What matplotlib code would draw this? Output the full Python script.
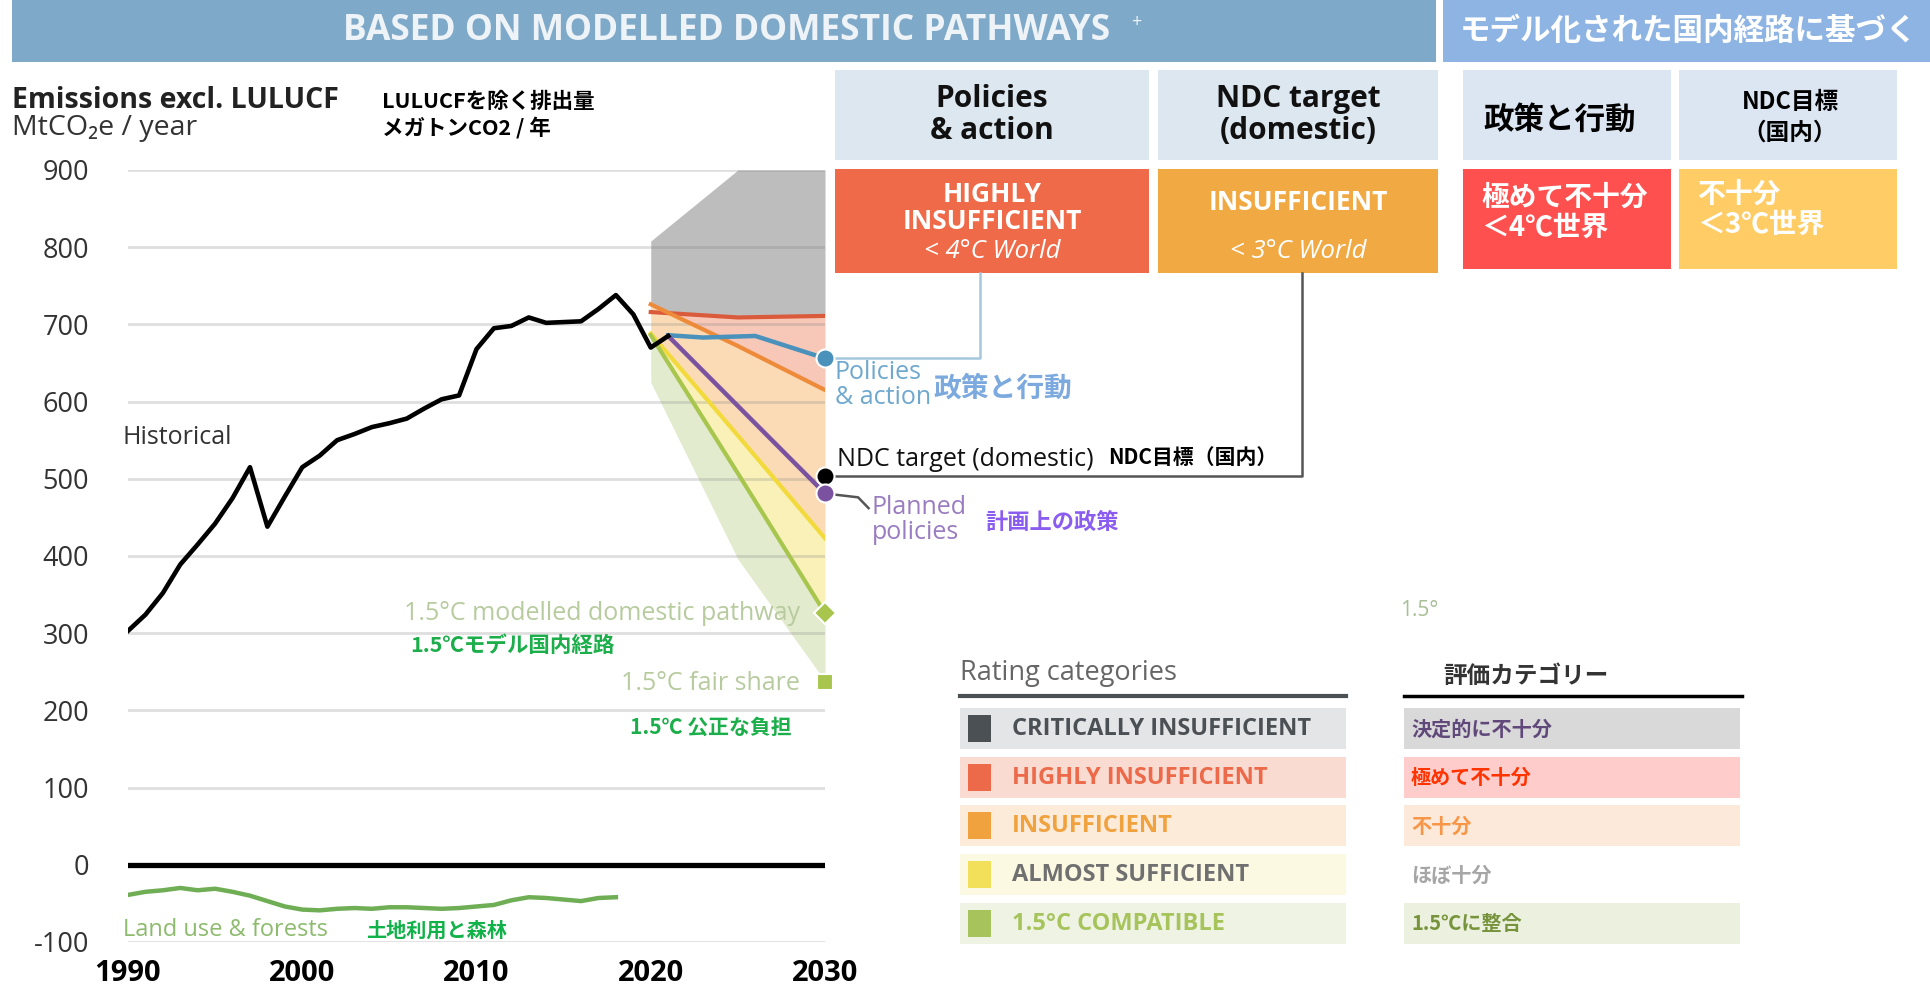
import matplotlib
matplotlib.use("Agg")
import matplotlib.pyplot as plt
from matplotlib.patches import Rectangle

plt.rcParams['font.family'] = ['Open Sans', 'Noto Sans CJK JP', 'DejaVu Sans']
JP = ['Noto Sans CJK JP', 'DejaVu Sans']

# ---- data ----
hist_years = list(range(1990, 2022))
hist_vals = [303, 324, 352, 389, 415, 442, 475, 515, 438, 477, 515, 530, 550, 558, 567, 572,
             578, 591, 603, 608, 668, 695, 698, 709, 702, 703, 704, 720, 738, 713, 670, 685]

lulucf_years = list(range(1990, 2019))
lulucf_vals = [-39, -35, -33, -30, -33, -31, -35, -40, -47, -54, -58, -59, -57, -56, -57, -55,
               -55, -56, -57, -56, -54, -52, -46, -42, -43, -45, -47, -43, -42]

band_years = [2020, 2025, 2030]
crit_top = [808, 900, 900]
highly_top = [716, 709, 711]
insuff_top = [726, 672, 615]
almost_top = [688, 556, 423]
compat_top = [686, 507, 326]
compat_bottom = [625, 396, 238]

policy_years = [2021, 2023, 2026, 2030]
policy_vals = [686, 683, 685, 656]
planned_years = [2021, 2030]
planned_vals = [685, 481]
ndc_2030 = 503
pathway_2030 = 326
fairshare_2030 = 237

yticks = [-100, 0, 100, 200, 300, 400, 500, 600, 700, 800, 900]
xticks = [1990, 2000, 2010, 2020, 2030]

rating_en = ['CRITICALLY INSUFFICIENT', 'HIGHLY INSUFFICIENT', 'INSUFFICIENT',
             'ALMOST SUFFICIENT', '1.5°C COMPATIBLE']
rating_ja = ['決定的に不十分', '極めて不十分', '不十分', 'ほぼ十分', '1.5℃に整合']
en_bg = ['#E4E5E7', '#FADBD2', '#FDEBDA', '#FCF9E3', '#EEF3E3']
en_sq = ['#4B5055', '#EC6A49', '#F0A23F', '#F2E05A', '#A7C45C']
en_tx = ['#4B5055', '#EC6A49', '#F0A23F', '#707070', '#A7C45C']
ja_bg = ['#D9D9D9', '#FFCCCC', '#FDE9D9', '#FFFFFF', '#EBF1DE']
ja_tx = ['#60497A', '#FF3300', '#F79646', '#A6A6A6', '#77933C']

W, H = 1931, 991
fig = plt.figure(figsize=(W / 100, H / 100), dpi=100)


def fx(x):
    return x / W


def fy(y):
    return 1 - y / H


def pbox(x0, y0, x1, y1, color):
    fig.add_artist(Rectangle((fx(x0), fy(y1)), (x1 - x0) / W, (y1 - y0) / H,
                             transform=fig.transFigure, facecolor=color, edgecolor='none', zorder=0))


def ptext(x, y, s, **kw):
    kw.setdefault('va', 'center')
    fig.text(fx(x), fy(y), s, **kw)


# ---- main axes ----
ax = fig.add_axes([fx(128), fy(942), (825 - 128) / W, (942 - 170) / H])
ax.set_xlim(1990, 2030)
ax.set_ylim(-100, 900)
for s in ax.spines.values():
    s.set_visible(False)

ax.fill_between(band_years, highly_top, crit_top, color='#BDBDBD', lw=0, zorder=1)
ax.fill_between(band_years, insuff_top, highly_top, color='#F7C7B8', lw=0, zorder=1)
ax.fill_between(band_years, almost_top, insuff_top, color='#FADBB6', lw=0, zorder=1)
ax.fill_between(band_years, compat_top, almost_top, color='#F9F1B8', lw=0, zorder=1)
ax.fill_between(band_years, compat_bottom, compat_top, color='#E3EBCF', lw=0, zorder=1)

for v in yticks:
    if v != 0:
        ax.axhline(v, color='#808080', alpha=0.25, lw=2, zorder=2)
ax.axhline(0, color='black', lw=3.8, zorder=3)

ax.plot(band_years, highly_top, color='#DA5B3C', lw=3, zorder=4)
ax.plot(band_years, insuff_top, color='#EE8B3A', lw=3, zorder=4)
ax.plot(band_years, almost_top, color='#F2DA3C', lw=3, zorder=4)
ax.plot(band_years, compat_top, color='#A8C64E', lw=3, zorder=4)
ax.plot(policy_years, policy_vals, color='#4A91BC', lw=3.2, zorder=5)
ax.plot(planned_years, planned_vals, color='#7A52A0', lw=3.2, zorder=5)
ax.plot(hist_years, hist_vals, color='black', lw=3.3, zorder=6)
ax.plot(lulucf_years, lulucf_vals, color='#6FAE54', lw=3.2, zorder=6)

# connectors
ax.plot([2030, 2038.9, 2038.9], [policy_vals[-1], policy_vals[-1], 767], color='#A6C8DE', lw=1.8,
        clip_on=False, zorder=3)
ax.plot([2030, 2057.4, 2057.4], [ndc_2030, ndc_2030, 767], color='#555555', lw=1.8,
        clip_on=False, zorder=3)
ax.plot([2030, 2031.9, 2032.5], [planned_vals[-1], 476, 462], color='#555555', lw=1.8,
        clip_on=False, zorder=3)

ax.plot([2030], [policy_vals[-1]], 'o', ms=13, color='#4A91BC', mec='white', mew=1.5, clip_on=False, zorder=7)
ax.plot([2030], [ndc_2030], 'o', ms=13, color='black', mec='white', mew=1.5, clip_on=False, zorder=7)
ax.plot([2030], [planned_vals[-1]], 'o', ms=13, color='#7A52A0', mec='white', mew=1.5, clip_on=False, zorder=8)
ax.plot([2030], [pathway_2030], 'D', ms=11, color='#A8C64E', mec='white', mew=1.5, clip_on=False, zorder=7)
ax.plot([2030], [fairshare_2030], 's', ms=11, color='#A8C64E', mec='white', mew=1.5, clip_on=False, zorder=7)

ax.set_yticks(yticks)
ax.set_yticklabels([str(v) for v in yticks], fontsize=19.5, color='#333333')
ax.set_xticks(xticks)
ax.set_xticklabels([str(v) for v in xticks], fontsize=21, fontweight='bold', color='black')
ax.tick_params(axis='both', length=0)
ax.tick_params(axis='y', pad=28)
ax.tick_params(axis='x', pad=12)

# ---- banners ----
pbox(12, 0, 1436, 62, '#7EA9C9')
ptext(727, 31, 'BASED ON MODELLED DOMESTIC PATHWAYS', fontsize=25.5, fontweight='bold',
      color='#EEF3F8', ha='center')
ptext(1136, 22, '+', fontsize=13, color='#EEF3F8', ha='center')
pbox(1443, 0, 1931, 62, '#8EB4E3')
ptext(1689, 31, 'モデル化された国内経路に基づく', fontsize=22, fontweight='bold', color='white',
      ha='center', family=JP)

# axis title
ptext(12, 101, 'Emissions excl. LULUCF', fontsize=20.5, fontweight='bold', color='#222222')
ptext(12, 128, 'MtCO₂e / year', fontsize=20.5, color='#333333')
ptext(382, 101, 'LULUCFを除く排出量', fontsize=15.5, fontweight='bold', color='black', family=JP)
ptext(382, 128, 'メガトンCO2 / 年', fontsize=15.5, fontweight='bold', color='black', family=JP)

# ---- rating header boxes (English) ----
pbox(835, 70, 1149, 160, '#DDE7F0')
pbox(1158, 70, 1438, 160, '#DDE7F0')
pbox(835, 169, 1149, 273, '#EE6A48')
pbox(1158, 169, 1438, 273, '#F1A944')
ptext(992, 115, 'Policies\n& action', fontsize=21.5, fontweight='bold', color='#111111', ha='center',
      linespacing=1.05)
ptext(1298, 115, 'NDC target\n(domestic)', fontsize=21.5, fontweight='bold', color='#111111', ha='center',
      linespacing=1.05)
ptext(992, 208, 'HIGHLY\nINSUFFICIENT', fontsize=19, fontweight='bold', color='white', ha='center',
      linespacing=1.0)
ptext(992, 252, '< 4°C World', fontsize=18.5, style='italic', color='white', ha='center')
ptext(1298, 203, 'INSUFFICIENT', fontsize=19, fontweight='bold', color='white', ha='center')
ptext(1298, 252, '< 3°C World', fontsize=18.5, style='italic', color='white', ha='center')

# ---- rating header boxes (Japanese) ----
pbox(1463, 70, 1671, 160, '#DCE6F2')
pbox(1679, 70, 1897, 160, '#DCE6F2')
pbox(1463, 169, 1671, 269, '#FF5050')
pbox(1679, 169, 1897, 269, '#FFCC66')
ptext(1560, 120, '政策と行動', fontsize=22, fontweight='bold', color='black', ha='center', family=JP)
ptext(1790, 117, 'NDC目標\n（国内）', fontsize=17, fontweight='bold', color='black', ha='center',
      family=JP, linespacing=1.35)
ptext(1481, 213, '極めて不十分\n＜4℃世界', fontsize=20, fontweight='bold', color='white',
      family=JP, linespacing=1.1)
ptext(1697, 210, '不十分\n＜3℃世界', fontsize=20, fontweight='bold', color='white',
      family=JP, linespacing=1.1)

# ---- annotations ----
ptext(835, 385, 'Policies\n& action', fontsize=18, color='#6EA8CF', linespacing=1.05)
ptext(933, 389, '政策と行動', fontsize=20, fontweight='bold', color='#7CA9DE', family=JP)
ptext(837, 460, 'NDC target (domestic)', fontsize=18, color='#111111')
ptext(1108, 457, 'NDC目標（国内）', fontsize=15, fontweight='bold', color='black', family=JP)
ptext(872, 520, 'Planned\npolicies', fontsize=18, color='#9A7CC0', linespacing=1.05)
ptext(985, 522, '計画上の政策', fontsize=16, fontweight='bold', color='#8A5CF0', family=JP)
ptext(800, 614, '1.5°C modelled domestic pathway', fontsize=18, color='#B7CB9F', ha='right')
ptext(410, 646, '1.5℃モデル国内経路', fontsize=15.5, fontweight='bold', color='#1BAE4A', family=JP)
ptext(800, 684, '1.5°C fair share', fontsize=18, color='#B7CB9F', ha='right')
ptext(630, 727, '1.5℃ 公正な負担', fontsize=15, fontweight='bold', color='#1BAE4A', family=JP)
ptext(123, 437, 'Historical', fontsize=18, color='#333333')
ptext(123, 930, 'Land use & forests', fontsize=17, color='#8DBB6E')
ptext(366, 930, '土地利用と森林', fontsize=14.5, fontweight='bold', color='#12B24A', family=JP)
ptext(1400, 610, '1.5°', fontsize=15, color='#A8BE96')

# ---- rating legend (English) ----
ptext(960, 673, 'Rating categories', fontsize=19.5, color='#666666')
fig.add_artist(plt.Line2D([fx(960), fx(1346)], [fy(696), fy(696)], transform=fig.transFigure,
                          color='#4B5055', lw=3))
for i, lab in enumerate(rating_en):
    y0 = 708 + i * 48.7
    pbox(960, y0, 1346, y0 + 41, en_bg[i])
    pbox(968, y0 + 7, 991, y0 + 34, en_sq[i])
    ptext(1012, y0 + 21, lab, fontsize=17, fontweight='bold', color=en_tx[i])

# ---- rating legend (Japanese) ----
ptext(1443, 676, '評価カテゴリー', fontsize=17, fontweight='bold', color='#333333', family=JP)
fig.add_artist(plt.Line2D([fx(1404), fx(1742)], [fy(696), fy(696)], transform=fig.transFigure,
                          color='black', lw=2.5))
for i, lab in enumerate(rating_ja):
    y0 = 708 + i * 48.7
    pbox(1404, y0, 1740, y0 + 41, ja_bg[i])
    ptext(1411, y0 + 21, lab, fontsize=14.5, fontweight='bold', color=ja_tx[i], family=JP)

fig.savefig('out.png', dpi=100)
